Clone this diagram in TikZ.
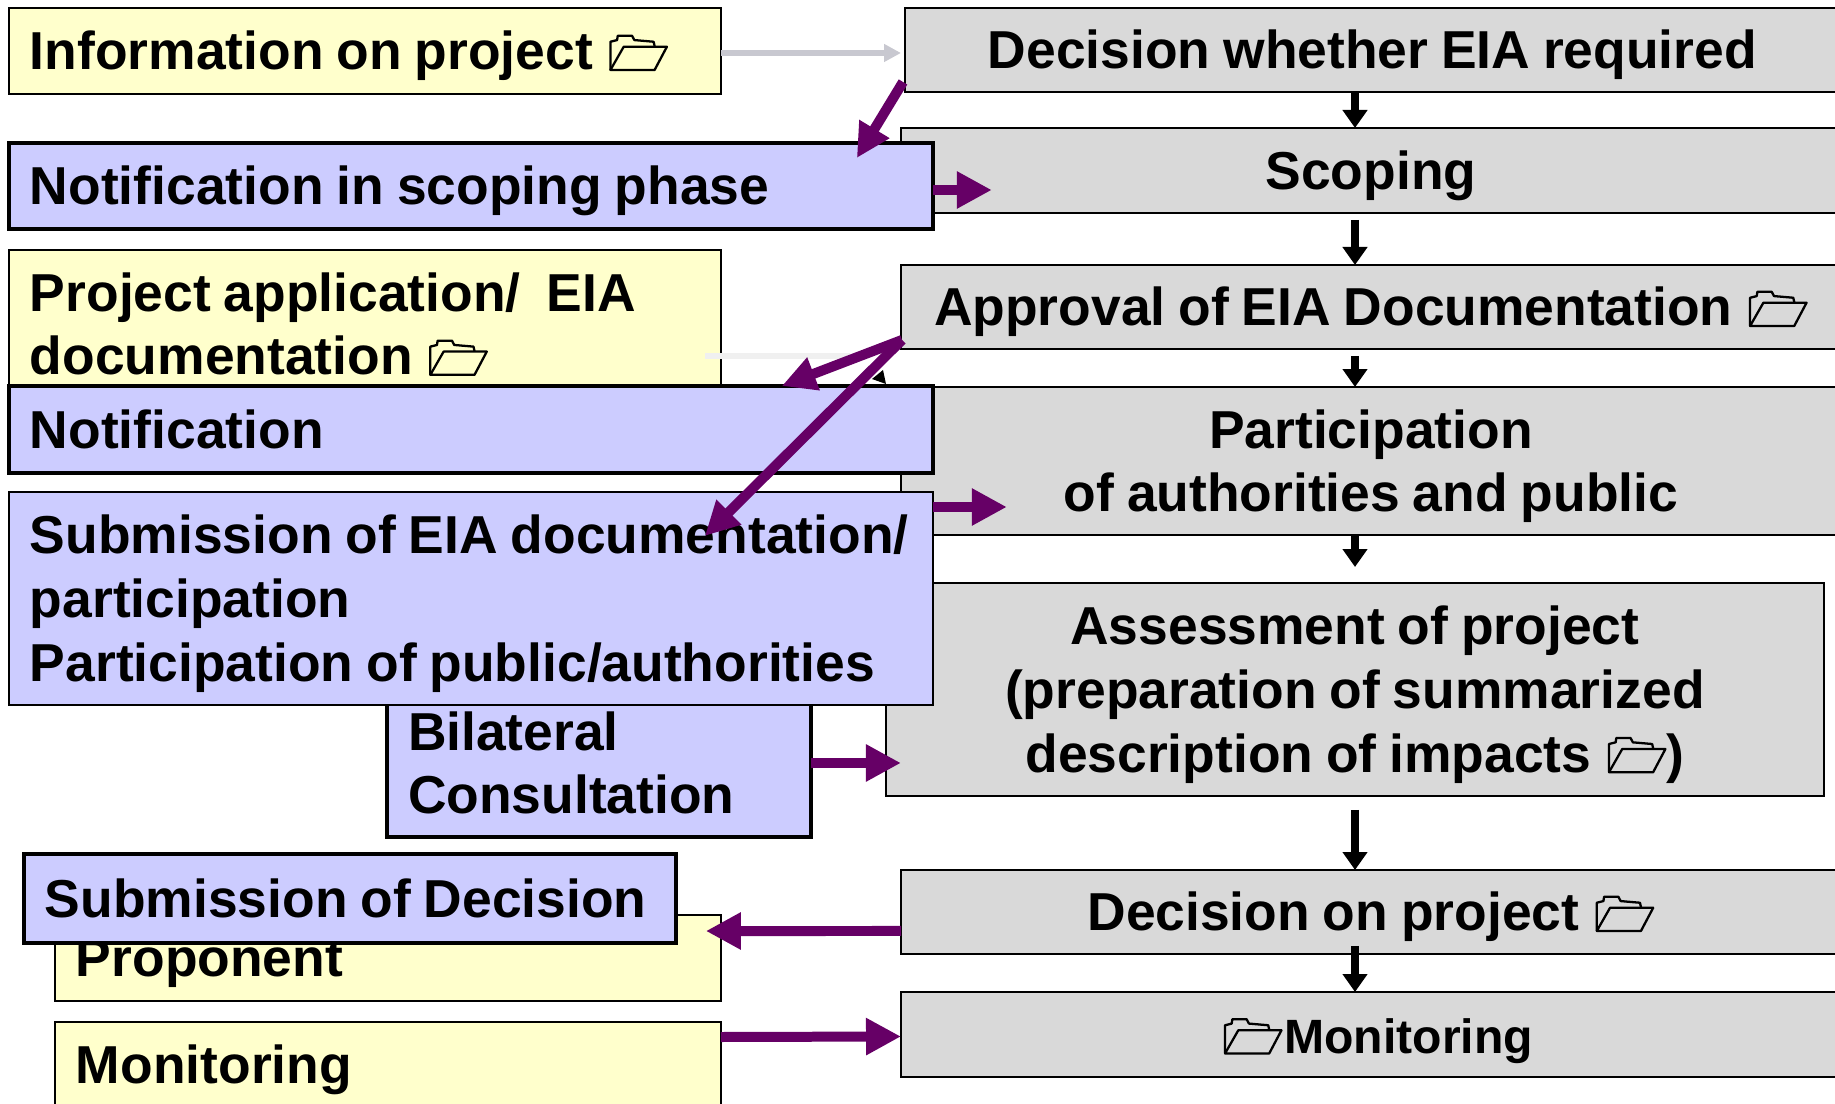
\documentclass[tikz,border=0pt]{standalone}
\usepackage{fontspec}
\setmainfont{Liberation Sans}
\usetikzlibrary{
    positioning,
    arrows.meta,
    calc
}

\newcommand{\foldericon}{%
  \tikz[baseline=0pt,x=0.189pt,y=0.189pt,line width=1.3pt,line join=round]{
    \draw (0,0) -- (0,85) -- (20,90) -- (22,103) -- (65,103) -- (72,90) -- (130,85) -- (133,72);
    \draw (0,0) -- (133,0) -- (170,70) -- (40,70) -- cycle;
  }%
}
\newcommand{\linestrut}{\rule[-7.35pt]{0pt}{36.3pt}}
\newcommand{\narrowspaces}{\spaceskip 7.35pt\relax}

\tikzset{
    textbox/.style={draw=black, line width=1.2pt, anchor=north west, outer sep=0pt,
        inner xsep=.42cm, inner ysep=0pt, font=\fontsize{30.4}{36.3}\selectfont\bfseries,
        execute at begin node=\narrowspaces\linestrut, execute at end node=\linestrut},
    inputbox/.style={textbox, fill=inputyellow, align=left},
    stagebox/.style={textbox, fill=stagegrey, align=center},
    notebox/.style={textbox, fill=noteblue, align=left},
    heavy/.style={line width=2pt},
    flowarrow/.style={-{Triangle[length=.36cm,width=.48cm]}, line width=.16cm, black},
    linkarrow/.style={-{Triangle[length=.7cm,width=.7cm]}, line width=.2cm, linkpurple},
    slantarrow/.style={-{Triangle[length=.68cm,width=.66cm]}, line width=.2cm, linkpurple},
    infoarrow/.style={-{Triangle[length=.34cm,width=.34cm]}, line width=.13cm, infogrey}
}
\definecolor{inputyellow}{HTML}{FFFFCC}
\definecolor{stagegrey}{HTML}{D9D9D9}
\definecolor{noteblue}{HTML}{CCCCFF}
\definecolor{linkpurple}{HTML}{660066}
\definecolor{infogrey}{HTML}{C8C8D0}
\definecolor{fadedgrey}{HTML}{F0F0F0}

\begin{document}
\begin{tikzpicture}[x=0.02cm,y=-0.02cm]
            \clip (0,0) rectangle (1835,1104);

            % Left column, project side
            \node[inputbox, text width=13.4cm, minimum height=1.72cm] (info) at (9,8) {Information on project\hspace{2pt} \foldericon};
            \node[inputbox, text width=13.4cm, minimum height=2.96cm] (appl) at (9,250) {Project application/\ \ EIA\\documentation\hspace{2pt} \foldericon};
            \node[inputbox, text width=12.48cm, minimum height=1.72cm] (prop) at (55,915) {Proponent};
            \node[inputbox, text width=12.48cm, minimum height=1.72cm] (moni) at (55,1022) {Monitoring};

            % Right column, procedure stages
            \node[stagebox, text width=17.86cm, minimum height=1.68cm] (decide) at (905,8) {Decision whether EIA required};
            \node[stagebox, text width=17.96cm, minimum height=1.7cm] (scope) at (901,128) {Scoping};
            \node[stagebox, text width=17.96cm, minimum height=1.68cm] (approve) at (901,265) {Approval of EIA Documentation\hspace{2pt} \foldericon};
            \node[stagebox, text width=17.96cm, minimum height=2.96cm] (parti) at (901,387) {Participation\\of authorities and public};
            \node[stagebox, text width=17.92cm, minimum height=4.26cm] (assess) at (886,583) {Assessment of project\\(preparation of summarized\\description of impacts\hspace{2pt} \foldericon)};
            \node[stagebox, text width=17.96cm, minimum height=1.68cm] (result) at (901,870) {Decision on project\hspace{2pt} \foldericon};
            \node[stagebox, text width=17.96cm, minimum height=1.7cm] (check) at (901,992) {\hspace*{8.6pt}\foldericon\fontsize{27.4}{36.3}\selectfont\hspace{1pt}Monitoring};

            % Procedure flow
            \coordinate (flowx) at (1355,0);
            \draw[flowarrow] (flowx |- decide.south) -- (flowx |- scope.north);
            \draw[flowarrow] ($(flowx |- scope.south)+(0,7)$) -- (flowx |- approve.north);
            \draw[flowarrow] ($(flowx |- approve.south)+(0,7)$) -- (flowx |- parti.north);
            \draw[flowarrow] (flowx |- parti.south) -- ($(flowx |- assess.north)+(0,-16)$);
            \draw[flowarrow] ($(flowx |- assess.south)+(0,14)$) -- (flowx |- result.north);
            \draw[flowarrow] ($(flowx |- result.south)+(0,-8)$) -- (flowx |- check.north);

            % Arrows from the project side
            \draw[infoarrow] ($(info.east)+(0,2)$) -- ($(decide.west)+(-4,3)$);
            \coordinate (fadeend) at (850,356);
            \draw[line width=.12cm, fadedgrey] (705,356) -- (fadeend);
            \fill (883,370) -- (872,379) -- (886,384) -- cycle;

            % Notes on top of the columns
            \node[notebox, heavy, text width=17.64cm, minimum height=1.72cm] (scopenote) at (9,143) {Notification in scoping phase};
            \node[notebox, heavy, text width=7.64cm, minimum height=2.96cm] (bilat) at (387,689) {Bilateral\\Consultation};
            \node[notebox, heavy, text width=17.64cm, minimum height=1.74cm] (notify) at (9,386) {Notification};
            \node[notebox, text width=17.64cm, minimum height=4.26cm] (submit) at (9,492) {\mbox{Submission of EIA documentation/}\\participation\\Participation of public/authorities};
            \node[notebox, heavy, text width=12.2cm, minimum height=1.78cm] (handin) at (24,854) {Submission of Decision};

            % Links between notes and stages
            \draw[slantarrow] ($(decide.south west)+(-2,-10)$) -- ($(scopenote.north east)+(-76,15)$);
            \draw[linkarrow] ($(scopenote.east)+(0,4)$) -- ++(59,0);
            \draw[slantarrow] ($(approve.south west)+(1,-9)$) -- ($(notify.north east)+(-151,0)$);
            \draw[slantarrow] ($(approve.south west)+(1,-9)$) -- ($(submit.north east)+(-228,44)$);
            \draw[linkarrow] ($(submit.north east)+(0,15)$) -- ++(74,0);
            \draw[linkarrow] (bilat.east) -- ++(90,0);
            \draw[linkarrow] ($(result.west)+(0,19)$) -- ($(prop.north east)+(-15,16)$);
            \draw[linkarrow] ($(moni.north east)+(0,15)$) -- ($(check.west)+(0,2)$);
          \end{tikzpicture}
\end{document}
